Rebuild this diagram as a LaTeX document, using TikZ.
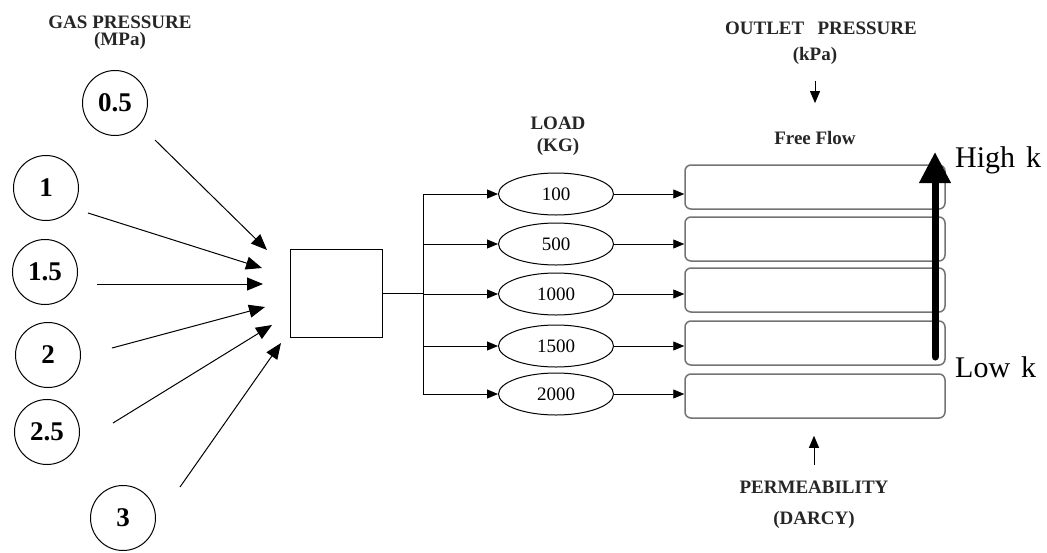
\documentclass[tikz,border=0pt]{standalone}
\usepackage{fontspec}
\setmainfont{Liberation Serif}
\usetikzlibrary{arrows.meta,shapes.geometric}
\begin{document}
\begin{tikzpicture}[x=1pt,y=-1pt,
  lbl/.style={font=\fontsize{19}{21}\selectfont\bfseries, text=black!85, inner sep=0pt},
  circ/.style={circle, draw, line width=1pt, minimum size=65pt, inner sep=0pt, font=\fontsize{27}{30}\selectfont\bfseries},
  ell/.style={ellipse, draw, line width=1pt, minimum width=115pt, minimum height=42pt, inner sep=0pt, font=\fontsize{19}{21}\selectfont},
  slab/.style={draw=black!55, line width=1.5pt, rounded corners=6pt, minimum width=260pt, minimum height=44pt, inner sep=0pt},
  conn/.style={line width=0.9pt, -{Triangle[length=11pt,width=9pt]}},
  inarr/.style={line width=1pt, -{Triangle[length=16pt,width=13pt]}},
  smallarr/.style={line width=1pt, -{Triangle[length=12pt,width=10pt]}},
  bigk/.style={font=\fontsize{30}{32}\selectfont, anchor=base west, inner sep=0pt}
]
\useasboundingbox (0,0) rectangle (1047,552);

% gas pressure inputs
\node[lbl] (gas) at (120,22) {GAS PRESSURE};
\node[lbl] (mpa) at (120,41) {(MPa)};
\node[circ] (c05) at (115,103) {0.5};
\node[circ] (c1)  at (46,188)  {1};
\node[circ] (c15) at (45,272)  {1.5};
\node[circ] (c2)  at (48,355)  {2};
\node[circ] (c25) at (47,432)  {2.5};
\node[circ] (c3)  at (123,518) {3};

\node[draw, line width=1pt, minimum width=92pt, minimum height=88pt, inner sep=0pt] (mix) at (336,293) {};

\coordinate (s05) at ([shift={(40,37)}]c05.center);
\coordinate (s1)  at ([shift={(42,25)}]c1.center);
\coordinate (s15) at ([shift={(52,12)}]c15.center);
\coordinate (s2)  at ([shift={(64,-7)}]c2.center);
\coordinate (s25) at ([shift={(66,-9)}]c25.center);
\coordinate (s3)  at ([shift={(57,-31)}]c3.center);
\coordinate (t05) at (267,250);
\coordinate (t1)  at (262,268);
\coordinate (t15) at (263,284);
\coordinate (t2)  at (265,307);
\coordinate (t25) at (272,325);
\coordinate (t3)  at (281,343);
\draw[inarr] (s05) -- (t05);
\draw[inarr] (s1) -- (t1);
\draw[inarr] (s15) -- (t15);
\draw[inarr] (s2) -- (t2);
\draw[inarr] (s25) -- (t25);
\draw[inarr] (s3) -- (t3);

% loads
\node[lbl] (load) at (558,123) {LOAD};
\node[lbl] (kg) at (558,147) {(KG)};
\node[ell] (e1) at (556,194) {100};
\node[ell] (e2) at (556,244) {500};
\node[ell] (e3) at (556,294) {1000};
\node[ell] (e4) at (556,346) {1500};
\node[ell] (e5) at (556,394) {2000};

\coordinate (br) at (423,293);
\draw[line width=1pt] (mix.east) -- (br);
\draw[line width=1pt] (br |- e1.west) -- (br |- e5.west);
\foreach \e in {e1,e2,e3,e4,e5}{
  \draw[conn] (br |- \e.west) -- (\e.west);
}

% samples
\node[slab] (r1) at (815,187) {};
\node[slab] (r2) at (815,239) {};
\node[slab] (r3) at (815,290) {};
\node[slab] (r4) at (815,343) {};
\node[slab] (r5) at (815,396) {};
\draw[conn] (e1.east) -- (e1.east -| r1.west);
\draw[conn] (e2.east) -- (e2.east -| r2.west);
\draw[conn] (e3.east) -- (e3.east -| r3.west);
\draw[conn] (e4.east) -- (e4.east -| r4.west);
\draw[conn] (e5.east) -- (e5.east -| r5.west);

% outlet
\node[lbl] (outlet) at (821,28) {OUTLET\hspace{0.7em}PRESSURE};
\node[lbl] (kpa) at (815,56) {(kPa)};
\node[lbl] (ff) at (815,138) {Free Flow};
\draw[smallarr, shorten <=16pt, shorten >=28pt] (kpa) -- (ff);

% permeability
\node[lbl] (perm) at (814,487) {PERMEABILITY};
\node[lbl] (darcy) at (814,520) {(DARCY)};
\draw[smallarr, shorten <=16pt, shorten >=17pt] (perm) -- (perm |- r5.south);

% permeability trend
\coordinate (lowpt) at (935,357);
\coordinate (highpt) at (935,152);
\draw[line width=7pt, line cap=round, -{Triangle[length=31pt,width=30pt]}] (lowpt) -- (highpt);
\node[bigk] (hk) at (955,167) {High\hspace{11pt}k};
\node[bigk] (lk) at (955,377) {Low\hspace{11pt}k};
\end{tikzpicture}
\end{document}
